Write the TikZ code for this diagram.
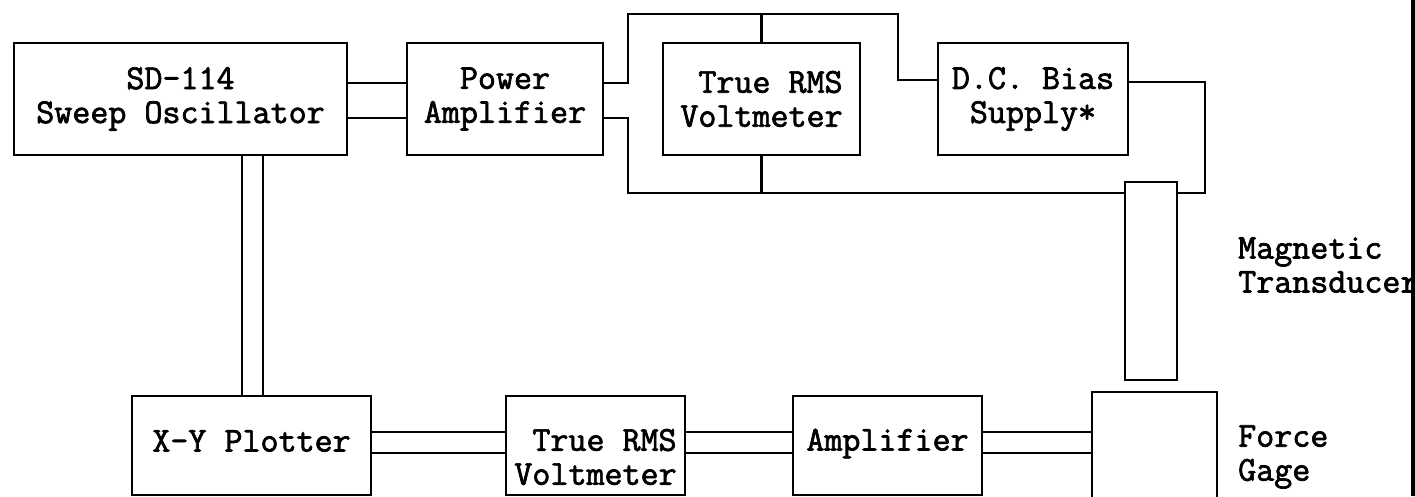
\documentclass[tikz,border=0pt]{standalone}
\usepackage{fontspec}
\newfontfamily\typerfont{Latin Modern Mono}[FakeBold=2]
\newcommand{\typer}{\typerfont\fontsize{35}{34}\selectfont}

\tikzset{
    unit/.style={draw, line width=2.4pt, align=center, inner sep=0pt, font=\typer},
    tag/.style={align=right, inner sep=0pt, font=\typer},
    wire/.style={line width=2.2pt},
    note/.style={align=left, anchor=west, inner sep=0pt, font=\typer}
}

\begin{document}
\begin{tikzpicture}[x=1pt, y=-1pt]
    \useasboundingbox (0,0) rectangle (1415,496);
    \clip (0,0) rectangle (1415,496);

    % Top row
    \node[unit, minimum width=333pt, minimum height=112pt] (osc) at (180.5,99) {SD-114\\Sweep Oscillator};
    \node[unit, minimum width=196pt, minimum height=112pt] (pamp) at (505,99) {Power\\Amplifier};
    \node[unit, align=right, minimum width=197pt, minimum height=112pt] (rms1) at (761.5,99) {True RMS\\Voltmeter};
    \node[unit, minimum width=190pt, minimum height=112pt] (bias) at (1033,99) {D.C. Bias\\Supply*};

    % Transducer and force gage
    \node[unit, minimum width=52pt, minimum height=198pt] (trans) at (1151,281) {};
    \node[unit, minimum width=125pt, minimum height=120pt] (gage) at (1154.5,452) {};
    \node[note] (transtxt) at (1238,265) {Magnetic\\Transducer};
    \node[note] (gagetxt) at (1238,457) {Force\\Gage};

    % Bottom row
    \node[unit, minimum width=239pt, minimum height=99pt,
        label={[tag, yshift=4.5pt]center:X-Y Plotter}] (plot) at (251.5,445.5) {};
    \node[unit, minimum width=179pt, minimum height=99pt,
        label={[tag, yshift=-11.5pt]center:True RMS\\Voltmeter}] (rms2) at (595.5,445.5) {};
    \node[unit, minimum width=189pt, minimum height=99pt,
        label={[tag, yshift=2pt]center:Amplifier}] (amp) at (887.5,445.5) {};

    % Corners of the voltmeter loop
    \coordinate (tl) at (628,14);
    \coordinate (tr) at (898,14);
    \coordinate (bl) at (628,193);
    \coordinate (br) at (1205,193);

    % Oscillator to power amplifier
    \foreach \y in {83,118}
        \draw[wire] (osc.east |- 0,\y) -- (pamp.west |- 0,\y);

    % Power amplifier, voltmeter, bias supply, transducer
    \draw[wire] (pamp.east |- 0,83) -| (tl) -- (tr) |- (bias.west |- 0,80);
    \draw[wire] (rms1.north) -- (rms1.north |- tl);
    \draw[wire] (pamp.east |- 0,118) -| (bl) -- (bl -| trans.west);
    \draw[wire] (rms1.south) -- (rms1.south |- bl);
    \draw[wire] (bias.east |- 0,82) -| (br) -- (br -| trans.east);

    % Oscillator to plotter
    \foreach \x in {242,263}
        \draw[wire] (osc.south -| \x,0) -- (plot.north -| \x,0);

    % Bottom signal chain
    \foreach \y in {432,453} {
        \draw[wire] (plot.east |- 0,\y) -- (rms2.west |- 0,\y);
        \draw[wire] (rms2.east |- 0,\y) -- (amp.west |- 0,\y);
        \draw[wire] (amp.east |- 0,\y) -- (gage.west |- 0,\y);
    }

    % Page edge
    \draw[line width=4pt] (1413,0) -- (1413,496);
\end{tikzpicture}
\end{document}
